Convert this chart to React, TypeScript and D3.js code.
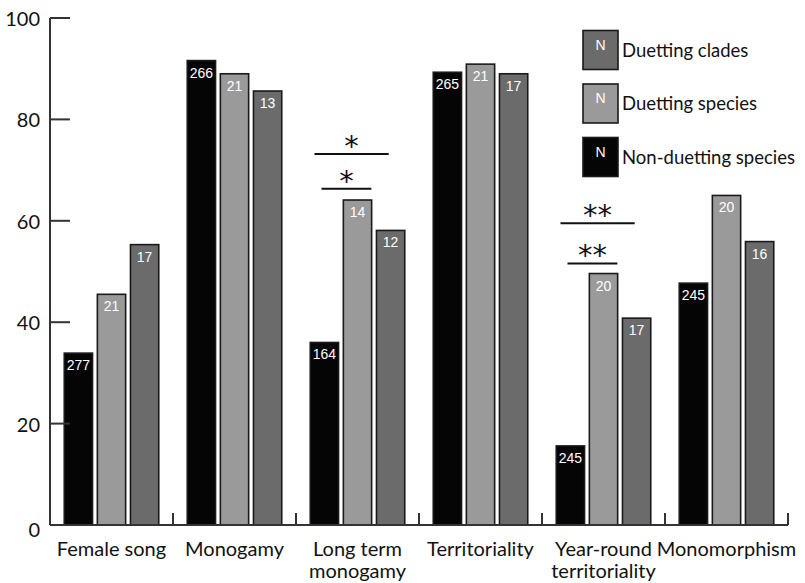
import React from "react";
import * as d3 from "d3";

const categories = ["Female song", "Monogamy", "Long term\nmonogamy", "Territoriality", "Year-round\nterritoriality", "Monomorphism"];
const seriesNames = ["Non-duetting species", "Duetting species", "Duetting clades"];
const nonDuetting = [33.9, 91.6, 36.0, 89.3, 15.6, 47.7];
const duettingSpecies = [45.5, 89.0, 64.1, 90.9, 49.6, 65.0];
const duettingClades = [55.3, 85.6, 58.1, 89.0, 40.8, 55.9];
const nonDuettingN = [277, 266, 164, 265, 245, 245];
const duettingSpeciesN = [21, 21, 14, 21, 20, 20];
const duettingCladesN = [17, 13, 12, 17, 17, 16];
const yTicks = [0, 20, 40, 60, 80, 100];
const legendOrder = [2, 1, 0];
// significance brackets: category index, series from/to, line value, label
const sigCat = [2, 2, 4, 4];
const sigTo = [1, 2, 1, 2];
const sigValue = [66.3, 73.2, 51.6, 59.5];
const sigLabel = ["*", "*", "**", "**"];

const W = 805;
const H = 583;
const M = { left: 50, right: 17, top: 18, bottom: 58 };
const colors = ["#050505", "#9a9a9a", "#6b6b6b"];
const FONT = "Lato, 'Liberation Sans', sans-serif";

export default function App() {
  const values = [nonDuetting, duettingSpecies, duettingClades];
  const counts = [nonDuettingN, duettingSpeciesN, duettingCladesN];
  const x0 = d3.scaleBand<number>().domain(d3.range(categories.length)).range([M.left, W - M.right]).paddingInner(0).paddingOuter(0);
  const bw = x0.bandwidth();
  const innerPad = 13.5;
  const x1 = d3.scaleBand<number>().domain([0, 1, 2]).range([innerPad, bw - innerPad]).paddingInner(0.1).paddingOuter(0);
  const y = d3.scaleLinear().domain([0, 100]).range([H - M.bottom, M.top]);
  const barW = x1.bandwidth();
  const baseY = y(0);

  return (
    <svg width={W} height={H} style={{ position: "absolute", left: 0, top: 0, background: "#fff" }}>
      {/* bars */}
      {categories.map((c, ci) => (
        <g key={c} transform={`translate(${x0(ci)},0)`}>
          {values.map((vals, si) => {
            const bx = x1(si)!;
            const by = y(vals[ci]);
            return (
              <g key={si}>
                <rect x={bx + 0.75} y={by} width={barW - 1.5} height={baseY - by} fill={colors[si]} stroke="#1a1a1a" strokeWidth={1.6} />
                <text x={bx + barW / 2} y={by + 17} textAnchor="middle" fill="#fff" fontFamily="'Liberation Sans', Arial, sans-serif" fontSize={14}>
                  {counts[si][ci]}
                </text>
              </g>
            );
          })}
        </g>
      ))}
      {/* axes */}
      <line x1={M.left} x2={M.left} y1={y(100)} y2={baseY} stroke="#333" strokeWidth={2} />
      <line x1={M.left} x2={W - M.right} y1={baseY} y2={baseY} stroke="#333" strokeWidth={2} />
      {yTicks.map((t) => (
        <g key={t}>
          {t > 0 && <line x1={M.left} x2={M.left + 20} y1={y(t)} y2={y(t)} stroke="#333" strokeWidth={2} />}
          <text x={40} y={y(t) + (t === 0 ? 4 : 0)} textAnchor="end" dominantBaseline="central" fontFamily={FONT} fontSize={20} fill="#111">
            {t}
          </text>
        </g>
      ))}
      {categories.map((c, ci) => (
        <line key={"sep" + ci} x1={x0(ci)! + bw} x2={x0(ci)! + bw} y1={baseY} y2={baseY - 12} stroke="#333" strokeWidth={2} />
      ))}
      {categories.map((c, ci) => (
        <text key={"lab" + ci} textAnchor="middle" fontFamily={FONT} fontSize={20} fill="#111">
          {c.split("\n").map((line, li) => (
            <tspan key={li} x={x0(ci)! + bw / 2} y={556 + li * 22}>
              {line}
            </tspan>
          ))}
        </text>
      ))}
      {/* significance */}
      {sigCat.map((ci, k) => {
        const gx = x0(ci)!;
        const isLower = sigTo[k] === 1;
        const xa = gx + x1(0)! + (isLower ? 12 : 5);
        const xb = isLower ? gx + x1(1)! + barW - 1 : gx + x1(2)! + 13;
        const ly = y(sigValue[k]);
        return (
          <g key={"sig" + k}>
            <line x1={xa} x2={xb} y1={ly} y2={ly} stroke="#111" strokeWidth={2} />
            <text x={(xa + xb) / 2} y={ly + 2} textAnchor="middle" fontFamily="'DejaVu Sans', sans-serif" fontSize={29} fill="#111">
              {sigLabel[k]}
            </text>
          </g>
        );
      })}
      {/* legend */}
      {legendOrder.map((si, i) => {
        const ty = 30.5 + i * 53.5;
        return (
          <g key={"leg" + si}>
            <rect x={583} y={ty} width={35} height={39} fill={colors[si]} stroke="#1a1a1a" strokeWidth={1.6} />
            <text x={600.5} y={ty + 19} textAnchor="middle" fill="#fff" fontFamily="'Liberation Sans', Arial, sans-serif" fontSize={14}>
              N
            </text>
            <text x={622} y={ty + 26} fontFamily={FONT} fontSize={18.5} fill="#111">
              {seriesNames[si]}
            </text>
          </g>
        );
      })}
    </svg>
  );
}
